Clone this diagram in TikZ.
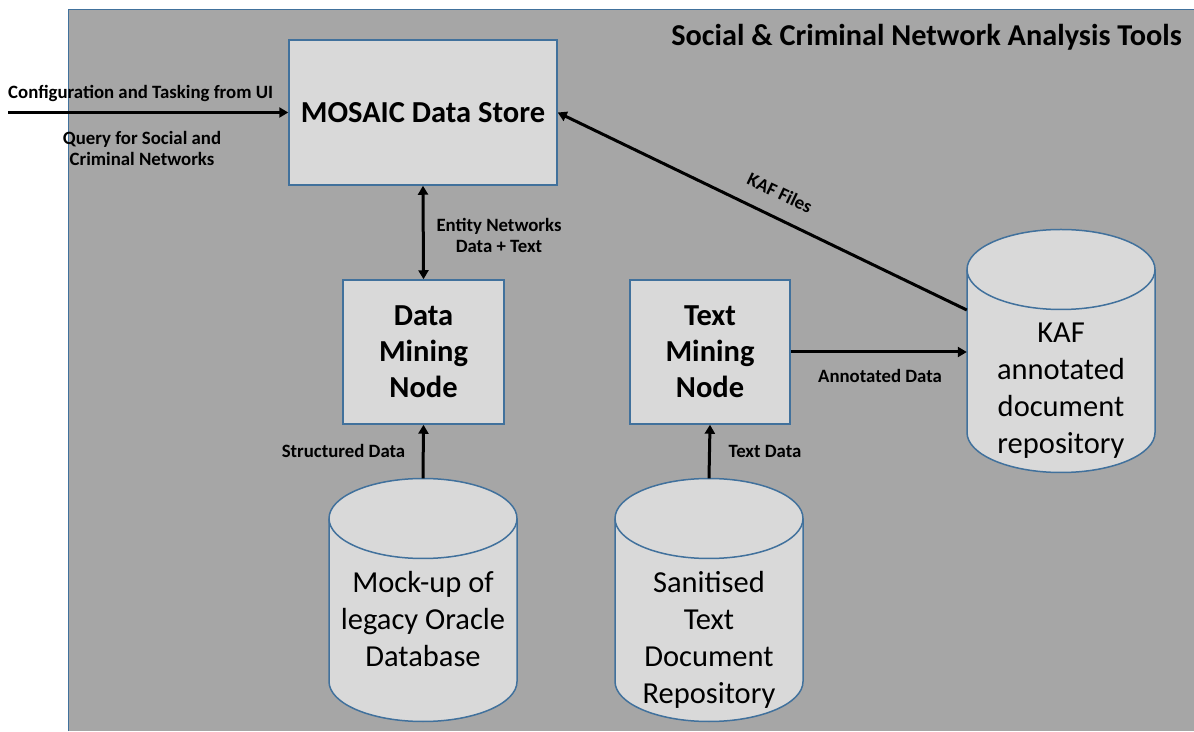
\documentclass[tikz,border=0pt]{standalone}
\usepackage{fontspec}
\setmainfont{Carlito}
\usetikzlibrary{arrows.meta,calc}
\definecolor{panelgray}{HTML}{A6A6A6}
\definecolor{boxfill}{HTML}{D9D9D9}
\definecolor{boxline}{HTML}{41719C}
\tikzset{
  procbox/.style={draw=boxline, fill=boxfill, line width=1.5pt, rectangle, inner sep=0pt},
  anchorbox/.style={rectangle, inner sep=0pt, minimum width=188pt, minimum height=243pt},
  flow/.style={line width=3pt, -{Triangle[length=9pt,width=10pt]}},
  biflow/.style={line width=3pt, {Triangle[length=9pt,width=10pt]}-{Triangle[length=9pt,width=10pt]}},
  lbl/.style={font=\fontsize{18.8}{21}\selectfont\bfseries, inner sep=0pt, align=center},
  bigbold/.style={font=\fontsize{30.5}{36}\selectfont\bfseries, align=center},
  cyltext/.style={font=\fontsize{30.5}{37}\selectfont, align=center, inner sep=0pt, anchor=north}
}
% database cylinder drawn inside a named 188 x 243 node
\newcommand{\dbcylinder}[1]{%
  \begin{scope}[shift={(#1.center)}]
    \filldraw[draw=boxline, fill=boxfill, line width=1.5pt]
      (-94,81.5) -- (-94,-81.5)
      arc[start angle=180, end angle=360, x radius=94, y radius=40]
      -- (94,81.5)
      arc[start angle=0, end angle=180, x radius=94, y radius=40] -- cycle;
    \draw[boxline, line width=1.5pt]
      (-94,81.5) arc[start angle=180, end angle=360, x radius=94, y radius=40];
  \end{scope}}
\begin{document}
\begin{tikzpicture}[x=1pt, y=1pt]
  \useasboundingbox (0,0) rectangle (1194,731);
  % tool panel
  \fill[panelgray] (68,0) rectangle (1194,721);
  \draw[boxline, line width=1pt] (68,0) -- (68,721) -- (1194,721);
  \node[anchor=east, font=\fontsize{30.3}{36}\selectfont\bfseries, inner sep=0pt]
    (title) at (1182,694) {Social \& Criminal Network Analysis Tools};

  % processing boxes
  \node[procbox, minimum width=268pt, minimum height=145pt, bigbold] (store) at (423,618.5) {MOSAIC Data Store};
  \node[procbox, minimum width=161pt, minimum height=144pt, bigbold] (dm) at (423.5,379) {Data\\Mining\\Node};
  \node[procbox, minimum width=160pt, minimum height=144pt, bigbold] (tm) at (710,379) {Text\\Mining\\Node};

  % repositories
  \node[anchorbox] (ora) at (423,131) {};
  \node[anchorbox] (txt) at (709,131) {};
  \node[anchorbox] (kaf) at (1061,380) {};
  \dbcylinder{ora}
  \dbcylinder{txt}
  \dbcylinder{kaf}
  \node[cyltext] (oratext) at ($(ora.north)+(0,-93)$) {Mock-up of\\legacy Oracle\\Database};
  \node[cyltext] (txttext) at ($(txt.north)+(0,-93)$) {Sanitised\\Text\\Document\\Repository};
  \node[cyltext] (kaftext) at ($(kaf.north)+(0,-93)$) {KAF\\annotated\\document\\repository};

  % flows
  \coordinate (ui) at (8,618.5);
  \draw[flow] (ui) -- (store.west);
  \node[lbl, anchor=west] (cfg) at (8,638) {Configuration and Tasking from UI};
  \node[lbl] (query) at (142,582.5) {Query for Social and\\Criminal Networks};

  \draw[biflow] (store.south) -- (dm.north);
  \node[lbl] (entity) at (499,495.5) {Entity Networks\\Data + Text};

  \draw[flow] (ora.north) -- (dm.south);
  \node[lbl] (struct) at (343.5,280) {Structured Data};

  \draw[flow] (txt.north) -- (tm.south);
  \node[lbl] (textdata) at (765,280) {Text Data};

  \draw[flow] (tm.east) -- (kaf.west |- tm.east);
  \node[lbl] (annot) at (880,355) {Annotated Data};

  \coordinate (kafout) at ($(kaf.west)+(0,41)$);
  \draw[flow] (kafout) -- (store.east);
  \node[lbl, rotate=-25.66] (kaffiles) at (780,538) {KAF Files};
\end{tikzpicture}
\end{document}
